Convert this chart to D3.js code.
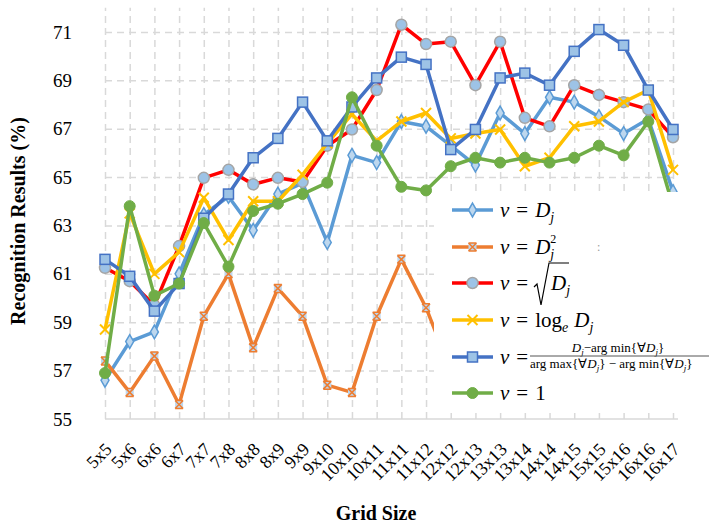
<!DOCTYPE html>
<html>
<head>
<meta charset="utf-8">
<script src="https://cdn.jsdelivr.net/npm/d3@7"></script>
<style>
  body { margin: 0; background: #fff; }
  svg text { font-family: "Liberation Serif", "Times New Roman", serif; }
</style>
</head>
<body>
<div id="chart"></div>
<script>
// categories and series
var cats = ["5x5","5x6","6x6","6x7","7x7","7x8","8x8","8x9","9x9","9x10","10x10","10x11",
            "11x11","11x12","12x12","12x13","13x13","13x14","14x14","14x15","15x15","15x16","16x16","16x17"];
var yTicks = [55, 57, 59, 61, 63, 65, 67, 69, 71];

var vDj   = [56.6, 58.2, 58.6, 61.0, 63.45, 64.2, 62.8, 64.3, 64.75, 62.3, 65.9, 65.6,
             67.3, 67.1, 66.3, 65.5, 67.65, 66.8, 68.3, 68.1, 67.5, 66.8, 67.4, 64.4];
var vDj2  = [57.4, 56.1, 57.6, 55.6, 59.25, 61.0, 57.95, 60.4, 59.25, 56.4, 56.1, 59.25,
             61.6, 59.6, 57.0, null, null, null, null, null, null, null, null, null];
var vSqrt = [61.25, 60.7, 59.7, 62.15, 64.97, 65.3, 64.7, 64.97, 64.8, 66.3, 66.97, 68.6,
             71.3, 70.5, 70.6, 68.8, 70.6, 67.45, 67.1, 68.8, 68.4, 68.1, 67.8, 66.65];
var vLog  = [58.7, 63.5, 61.0, 61.9, 64.15, 62.4, 64.0, 64.0, 65.1, 66.4, 67.6, 66.5,
             67.3, 67.65, 66.6, 66.8, 66.97, 65.45, 65.8, 67.1, 67.3, 68.1, 68.6, 65.3];
var vNorm = [61.6, 60.9, 59.46, 60.6, 63.3, 64.3, 65.8, 66.6, 68.1, 66.5, 67.9, 69.1,
             69.96, 69.66, 66.14, 66.97, 69.1, 69.3, 68.8, 70.2, 71.1, 70.45, 68.6, 66.97];
var vOne  = [56.9, 63.8, 60.1, 60.6, 63.1, 61.3, 63.6, 63.9, 64.3, 64.77, 68.3, 66.3,
             64.6, 64.45, 65.45, 65.8, 65.6, 65.8, 65.6, 65.8, 66.3, 65.9, 67.3, 63.8];

var series = [
  {values: vDj,   color: "#5B9BD5", marker: "diamond"},
  {values: vDj2,  color: "#ED7D31", marker: "xbox"},
  {values: vSqrt, color: "#FF0000", marker: "circle"},
  {values: vLog,  color: "#FFC000", marker: "x"},
  {values: vNorm, color: "#4472C4", marker: "square"},
  {values: vOne,  color: "#70AD47", marker: "dot"}
];

var W = 709, H = 527;
var x0 = 105, x1 = 673, yBottom = 419, yTop = 7.8;
var serif = "'Liberation Serif', 'Times New Roman', serif";

var svg = d3.select("#chart").append("svg")
    .attr("width", W)
    .attr("height", H)
    .attr("font-family", serif);

var x = d3.scalePoint().domain(cats).range([x0, x1]);
var y = d3.scaleLinear().domain([55, 72]).range([yBottom, yTop]);

// vertical dashed gridlines
svg.append("g")
    .attr("transform", "translate(0," + yBottom + ")")
    .call(d3.axisBottom(x).tickSize(-(yBottom - yTop)).tickFormat(""))
    .call(g => g.select(".domain").remove())
    .selectAll("line")
      .attr("stroke", "#D9D9D9")
      .attr("stroke-width", 1.5)
      .attr("stroke-dasharray", "7,5");

// horizontal dashed gridlines
svg.append("g")
    .attr("transform", "translate(" + x0 + ",0)")
    .call(d3.axisLeft(y).tickValues(yTicks.slice(1)).tickSize(-(x1 - x0)).tickFormat(""))
    .call(g => g.select(".domain").remove())
    .selectAll("line")
      .attr("stroke", "#D9D9D9")
      .attr("stroke-width", 1.5)
      .attr("stroke-dasharray", "7,5");

// x axis
var xAxis = svg.append("g")
    .attr("transform", "translate(0," + yBottom + ")")
    .call(d3.axisBottom(x).tickSize(0));
xAxis.attr("font-family", serif);
xAxis.select(".domain")
    .attr("stroke", "#D9D9D9")
    .attr("stroke-width", 1.5)
    .attr("d", "M" + x0 + ",0H" + (x1 + 5));
xAxis.selectAll("text")
    .attr("x", 0).attr("y", 0)
    .attr("dy", "0.35em")
    .attr("text-anchor", "end")
    .attr("transform", "translate(3,27) rotate(-45)")
    .attr("font-size", 18)
    .attr("fill", "#000");

// y axis labels
var yAxis = svg.append("g")
    .attr("transform", "translate(" + x0 + ",0)")
    .call(d3.axisLeft(y).tickValues(yTicks).tickSize(0).tickPadding(33));
yAxis.attr("font-family", serif);
yAxis.select(".domain").remove();
yAxis.selectAll("text")
    .attr("font-size", 19)
    .attr("fill", "#000");

// axis titles
svg.append("text")
    .attr("transform", "translate(25,221) rotate(-90)")
    .attr("text-anchor", "middle")
    .attr("font-size", 20)
    .attr("font-weight", "bold")
    .text("Recognition Results (%)");

svg.append("text")
    .attr("x", 376)
    .attr("y", 520)
    .attr("text-anchor", "middle")
    .attr("font-size", 20)
    .attr("font-weight", "bold")
    .text("Grid Size");

// markers
function drawMarker(g, type, color) {
  if (type == "diamond") {
    g.append("path").attr("d", d3.symbol(d3.symbolDiamond, 55)())
      .attr("fill", "#BDD7EE").attr("stroke", color).attr("stroke-width", 1.5);
  } else if (type == "xbox") {
    g.append("rect").attr("x", -4).attr("y", -4).attr("width", 8).attr("height", 8)
      .attr("fill", "#BDD7EE");
    g.append("path").attr("d", "M-4,-4L4,4M-4,4L4,-4M-4,-4H4M-4,4H4")
      .attr("stroke", color).attr("stroke-width", 1.5).attr("fill", "none");
  } else if (type == "circle") {
    g.append("circle").attr("r", 5.5)
      .attr("fill", "#9DC3E6").attr("stroke", "#A5A5A5").attr("stroke-width", 1.5);
  } else if (type == "x") {
    g.append("path").attr("d", "M-5,-5L5,5M-5,5L5,-5")
      .attr("stroke", color).attr("stroke-width", 2).attr("fill", "none");
  } else if (type == "square") {
    g.append("rect").attr("x", -5).attr("y", -5).attr("width", 10).attr("height", 10)
      .attr("fill", "#9DC3E6").attr("stroke", color).attr("stroke-width", 1.5);
  } else {
    g.append("circle").attr("r", 5.5)
      .attr("fill", color).attr("stroke", color).attr("stroke-width", 1);
  }
}

var line = d3.line()
    .defined(d => d != null)
    .x((d, i) => x(cats[i]))
    .y(d => y(d));

series.forEach(function(s) {
  var g = svg.append("g");
  g.append("path")
    .datum(s.values)
    .attr("d", line)
    .attr("fill", "none")
    .attr("stroke", s.color)
    .attr("stroke-width", 3.5)
    .attr("stroke-linejoin", "round");
  g.selectAll(".mk")
    .data(s.values.map((v, i) => ({v: v, c: cats[i]})).filter(d => d.v != null))
    .enter()
    .append("g")
      .attr("transform", d => "translate(" + x(d.c) + "," + y(d.v) + ")")
      .each(function() { drawMarker(d3.select(this), s.marker, s.color); });
});

// legend box (covers part of the plot, as in the figure)
var leg = svg.append("g");
leg.append("rect")
    .attr("x", 434).attr("y", 192)
    .attr("width", 280).attr("height", 221)
    .attr("fill", "#fff");

var legY = [210, 247, 283, 320, 357, 393];
series.forEach(function(s, i) {
  var g = leg.append("g").attr("transform", "translate(0," + legY[i] + ")");
  g.append("line")
    .attr("x1", 452).attr("x2", 493)
    .attr("stroke", s.color).attr("stroke-width", 3.5);
  var m = g.append("g").attr("transform", "translate(472.5,0)");
  drawMarker(m, s.marker, s.color);
});

function nuEq(i) {
  var t = leg.append("text")
    .attr("x", 500).attr("y", legY[i] + 7)
    .attr("font-size", 21);
  t.append("tspan").attr("font-style", "italic").text("ν");
  t.append("tspan").attr("dx", 7).text("=");
  return t;
}

// 1: v = D_j
var t1 = nuEq(0);
t1.append("tspan").attr("dx", 7).attr("font-style", "italic").text("D");
t1.append("tspan").attr("dy", 5).attr("font-size", 14).attr("font-style", "italic").text("j");

// 2: v = D_j^2
var t2 = nuEq(1);
t2.append("tspan").attr("dx", 7).attr("font-style", "italic").text("D");
t2.append("tspan").attr("dy", 5).attr("font-size", 14).attr("font-style", "italic").text("j");
t2.append("tspan").attr("dx", -4).attr("dy", -16).attr("font-size", 12).text("2");
leg.append("text").attr("x", 597).attr("y", 251)
    .attr("fill", "#999").attr("font-size", 12).text(":");

// 3: v = sqrt(D_j)
var t3 = nuEq(2);
leg.append("path")
    .attr("d", "M534," + (legY[2] + 4) + "L537," + (legY[2] + 1) + "L541," + (legY[2] + 22) +
               "L549," + (legY[2] - 20) + "H569")
    .attr("fill", "none").attr("stroke", "#000").attr("stroke-width", 1.2);
var t3b = leg.append("text").attr("x", 551).attr("y", legY[2] + 7).attr("font-size", 21);
t3b.append("tspan").attr("font-style", "italic").text("D");
t3b.append("tspan").attr("dy", 5).attr("font-size", 14).attr("font-style", "italic").text("j");

// 4: v = log_e D_j
var t4 = nuEq(3);
t4.append("tspan").attr("dx", 7).text("log");
t4.append("tspan").attr("dy", 5).attr("font-size", 14).attr("font-style", "italic").text("e");
t4.append("tspan").attr("dx", 6).attr("dy", -5).attr("font-style", "italic").text("D");
t4.append("tspan").attr("dy", 5).attr("font-size", 14).attr("font-style", "italic").text("j");

// 5: normalised
var t5 = nuEq(4);
var num = leg.append("text").attr("x", 618).attr("y", legY[4] - 5)
    .attr("text-anchor", "middle").attr("font-size", 13);
num.append("tspan").attr("font-style", "italic").text("D");
num.append("tspan").attr("dy", 3).attr("font-size", 9).attr("font-style", "italic").text("j");
num.append("tspan").attr("dy", -3).text("−arg min{∀");
num.append("tspan").attr("font-style", "italic").text("D");
num.append("tspan").attr("dy", 3).attr("font-size", 9).attr("font-style", "italic").text("j");
num.append("tspan").attr("dy", -3).text("}");
leg.append("line")
    .attr("x1", 530).attr("x2", 712)
    .attr("y1", legY[4] - 1).attr("y2", legY[4] - 1)
    .attr("stroke", "#555").attr("stroke-width", 1);
var den = leg.append("text").attr("x", 530).attr("y", legY[4] + 11)
    .attr("font-size", 13);
den.append("tspan").text("arg max{∀");
den.append("tspan").attr("font-style", "italic").text("D");
den.append("tspan").attr("dy", 3).attr("font-size", 9).attr("font-style", "italic").text("j");
den.append("tspan").attr("dy", -3).text("} − arg min{∀");
den.append("tspan").attr("font-style", "italic").text("D");
den.append("tspan").attr("dy", 3).attr("font-size", 9).attr("font-style", "italic").text("j");
den.append("tspan").attr("dy", -3).text("}");

// 6: v = 1
var t6 = nuEq(5);
t6.append("tspan").attr("dx", 7).text("1");
</script>
</body>
</html>
